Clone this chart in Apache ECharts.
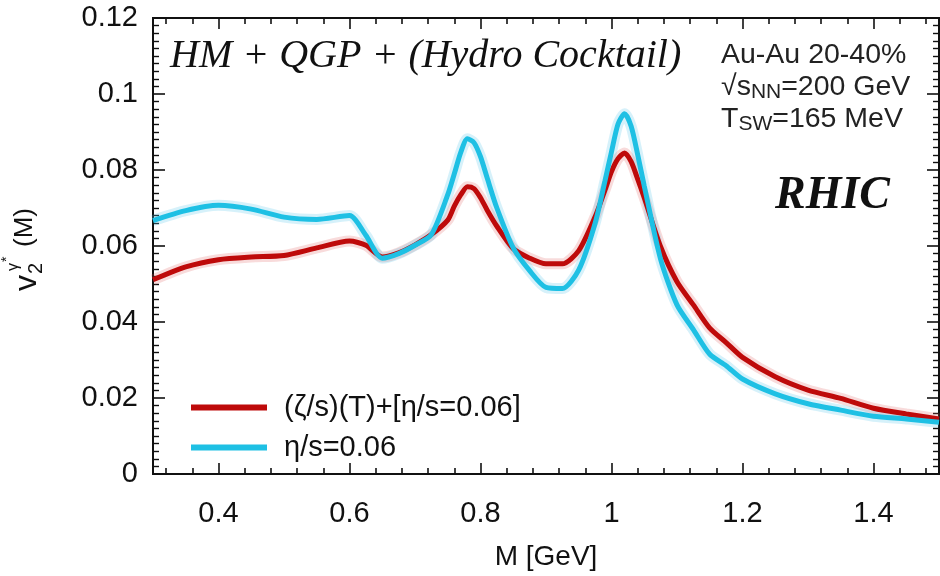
<!DOCTYPE html>
<html><head><meta charset="utf-8">
<script src="https://cdn.jsdelivr.net/npm/echarts@6/dist/echarts.min.js"></script>
<style>html,body{margin:0;padding:0;background:#fff}#c{width:940px;height:576px}</style>
</head><body><div id="c"></div>
<script>
// invariant mass grid (GeV)
const mass = [0.30,0.35,0.40,0.45,0.50,0.55,0.60,0.625,0.65,0.675,0.70,0.725,0.75,0.76,0.77,0.78,0.79,0.80,0.81,0.825,0.85,0.875,0.90,0.925,0.95,0.975,0.99,1.00,1.01,1.02,1.03,1.04,1.05,1.075,1.10,1.125,1.15,1.175,1.20,1.25,1.30,1.35,1.40,1.45,1.50];
// (zeta/s)(T)+[eta/s=0.06]
const bulkValues = [0.0511,0.0545,0.0564,0.0571,0.0575,0.0595,0.0613,0.0602,0.0571,0.0582,0.0603,0.0630,0.0668,0.0705,0.0735,0.0756,0.0751,0.0727,0.0695,0.0652,0.0593,0.0568,0.0553,0.0553,0.0588,0.0677,0.0747,0.0796,0.0830,0.0845,0.0822,0.0776,0.0727,0.0598,0.0506,0.0445,0.0384,0.0346,0.0307,0.0256,0.0221,0.0199,0.0173,0.0158,0.0145];
// eta/s=0.06
const shearValues = [0.0667,0.0693,0.0707,0.0697,0.0676,0.0670,0.0680,0.0628,0.0568,0.0580,0.0602,0.0630,0.0735,0.0790,0.0847,0.0882,0.0872,0.0835,0.0780,0.0700,0.0595,0.0535,0.0491,0.0488,0.0537,0.0660,0.0771,0.0848,0.0921,0.0948,0.0915,0.0840,0.0758,0.0565,0.0445,0.0380,0.0315,0.0285,0.0250,0.0211,0.0185,0.0168,0.0152,0.0145,0.0136];
const seriesNames = ['(ζ/s)(T)+[η/s=0.06]', 'η/s=0.06'];
const xTickLabels = [0.4, 0.6, 0.8, 1.0, 1.2, 1.4];
const xMinorTicks = [0.32,0.36,0.44,0.48,0.52,0.56,0.64,0.68,0.72,0.76,0.84,0.88,0.92,0.96,1.04,1.08,1.12,1.16,1.24,1.28,1.32,1.36,1.44,1.48];

const FONT = 'Liberation Sans, Arial, sans-serif';
const RED = '#be0a0a', CYAN = '#1ec0e4';
const pair = vals => mass.map((m, i) => [m, vals[i]]);

const axisLine = {show: true, onZero: false, lineStyle: {color: '#111', width: 2}};
function xAx(pos, major, label) {
  return {
    type: 'value', min: 0.3, max: 1.5, position: pos, interval: 0.02,
    axisLine: axisLine, splitLine: {show: false},
    axisTick: {show: true, inside: true, length: major ? 11 : 6, lineStyle: {color: '#111', width: 1.6},
      customValues: major ? xTickLabels : xMinorTicks},
    axisLabel: label ? {show: true, customValues: xTickLabels, margin: 25, fontSize: 29, color: '#111', fontFamily: FONT,
      formatter: v => String(+v.toFixed(2))} : {show: false},
    name: label ? 'M [GeV]' : '', nameLocation: 'middle', nameGap: 69,
    nameTextStyle: {fontSize: 28, color: '#111', fontFamily: FONT}
  };
}
function yAx(pos, label) {
  return {
    type: 'value', min: 0, max: 0.12, interval: 0.02, position: pos,
    axisLine: axisLine, splitLine: {show: false},
    axisTick: {show: true, inside: true, length: 12, lineStyle: {color: '#111', width: 1.6}},
    minorTick: {show: true, splitNumber: 10, length: 6, lineStyle: {color: '#111', width: 1.4}},
    axisLabel: label ? {show: true, margin: 15, fontSize: 29, color: '#111', fontFamily: FONT} : {show: false}
  };
}

const chart = echarts.init(document.getElementById('c'), null, {renderer: 'canvas'});
chart.setOption({
  animation: false,
  backgroundColor: '#fff',
  grid: {left: 153, right: 1, top: 18, bottom: 99, containLabel: false},
  xAxis: [xAx('bottom', true, true), xAx('bottom', false, false), xAx('top', true, false), xAx('top', false, false)],
  yAxis: [yAx('left', true), yAx('right', false)],
  legend: {
    data: seriesNames, orient: 'vertical', left: 186, top: 388,
    icon: 'rect', itemWidth: 76, itemHeight: 6, itemGap: 11,
    textStyle: {fontSize: 29, lineHeight: 29, color: '#111', fontFamily: FONT, padding: [0, 0, 0, 12]}
  },
  series: [
    {name: 'band1', type: 'line', data: pair(bulkValues), showSymbol: false, symbol: 'none', smooth: 0.25,
      lineStyle: {width: 11, color: 'rgba(225,90,90,0.22)'}, silent: true, z: 1},
    {name: 'band2', type: 'line', data: pair(shearValues), showSymbol: false, symbol: 'none', smooth: 0.25,
      lineStyle: {width: 11, color: 'rgba(90,200,235,0.25)'}, silent: true, z: 1},
    {name: seriesNames[0], type: 'line', data: pair(bulkValues), showSymbol: false, symbol: 'none', smooth: 0.25,
      lineStyle: {width: 5, color: RED}, itemStyle: {color: RED}, z: 3},
    {name: seriesNames[1], type: 'line', data: pair(shearValues), showSymbol: false, symbol: 'none', smooth: 0.25,
      lineStyle: {width: 5, color: CYAN}, itemStyle: {color: CYAN}, z: 4}
  ],
  graphic: [
    {type: 'text', left: 170, top: 36, z: 10,
      style: {text: 'HM + QGP + (Hydro Cocktail)', font: 'italic 40px "Liberation Serif", serif', fill: '#111'}},
    {type: 'text', left: 775, top: 173, z: 10,
      style: {text: 'RHIC', font: 'italic bold 46px "Liberation Serif", serif', fill: '#111'}},
    {type: 'text', left: 721, top: 41, z: 10,
      style: {text: 'Au-Au 20-40%', font: '28.5px ' + FONT, fill: '#222'}},
    {type: 'text', left: 721, top: 73, z: 10,
      style: {text: '{a|√s}{s|NN}{a|=200 GeV}', fill: '#222',
        rich: {a: {fontSize: 28.5, lineHeight: 30, fontFamily: FONT, fill: '#222'},
               s: {fontSize: 21, lineHeight: 16, verticalAlign: 'bottom', fontFamily: FONT, fill: '#222'}}}},
    {type: 'text', left: 721, top: 105, z: 10,
      style: {text: '{a|T}{s|SW}{a|=165 MeV}', fill: '#222',
        rich: {a: {fontSize: 28.5, lineHeight: 30, fontFamily: FONT, fill: '#222'},
               s: {fontSize: 21, lineHeight: 16, verticalAlign: 'bottom', fontFamily: FONT, fill: '#222'}}}},
    {type: 'group', x: 27, y: 291, rotation: Math.PI / 2, z: 10, children: [
      {type: 'text', x: 0, y: 0, style: {text: 'v', font: '32px ' + FONT, fill: '#111', textVerticalAlign: 'middle'}},
      {type: 'text', x: 17, y: 9, style: {text: '2', font: '20px ' + FONT, fill: '#111', textVerticalAlign: 'middle'}},
      {type: 'text', x: 20, y: -13, style: {text: 'γ', font: '16px ' + FONT, fill: '#111', textVerticalAlign: 'middle'}},
      {type: 'text', x: 29, y: -20, style: {text: '*', font: '14px ' + FONT, fill: '#111', textVerticalAlign: 'middle'}},
      {type: 'text', x: 44, y: -2, style: {text: '(M)', font: '26px ' + FONT, fill: '#111', textVerticalAlign: 'middle'}}
    ]}
  ]
});
</script></body></html>
